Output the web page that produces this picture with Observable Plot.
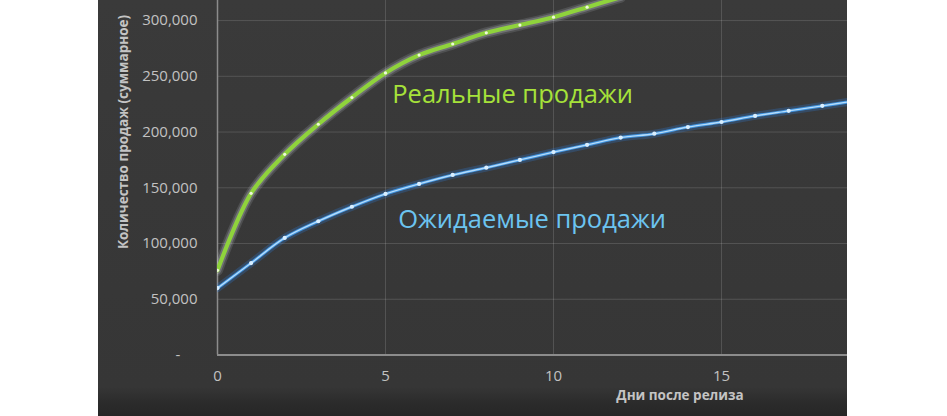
<!DOCTYPE html>
<html><head><meta charset="utf-8">
<script src="https://cdn.jsdelivr.net/npm/d3@7"></script>
<script src="https://cdn.jsdelivr.net/npm/@observablehq/plot@0.6"></script>
<style>
html,body{margin:0;padding:0;background:#fff;width:947px;height:416px;overflow:hidden;}
#panel{position:absolute;left:98px;top:0;width:749px;height:416px;background:linear-gradient(#3a3a3a 0%,#363636 93%,#2c2c2c 96.5%,#262626 100%);}
#chart{position:absolute;left:0;top:0;}
#chart g[aria-label$="tick label"]{font-size:15px !important;font-family:"Open Sans",sans-serif;}
.lab{position:absolute;color:#c4c4c4;font-family:"Open Sans",sans-serif;font-weight:bold;font-size:13.5px;white-space:nowrap;}
#ylab{left:25px;top:132px;transform:translate(-50%,-50%) rotate(-90deg);}
#xlab{left:582px;top:395px;transform:translate(-50%,-50%);}
</style></head><body>
<div id="panel"><div id="chart"></div>
<div class="lab" id="ylab">Количество продаж (суммарное)</div>
<div class="lab" id="xlab">Дни после релиза</div>
</div>
<script>
const realDays = [0,1,2,3,4,5,6,7,8,9,10,11,12];
const realSales = [76000,145000,180000,207000,231000,253000,269000,279000,289000,296000,303000,312000,321000];
const expectedDays = [0,1,2,3,4,5,6,7,8,9,10,11,12,13,14,15,16,17,18,19];
const expectedSales = [60000,82500,105000,120000,133000,144500,153500,161500,168000,175000,182000,188500,195000,198500,204500,209000,214500,219000,223500,228000];
const xTicks = [0,5,10,15];
const yTicks = [0,50000,100000,150000,200000,250000,300000];
const labelTexts = ["Реальные продажи","Ожидаемые продажи"];
const labelDays = [5.2,5.38];
const labelValues = [233500,121500];
const labelColors = ["#a6e23a","#6cc4f0"];

const real = realDays.map((d,i)=>({day:d,sales:realSales[i]}));
const expected = expectedDays.map((d,i)=>({day:d,sales:expectedSales[i]}));
const labels = labelTexts.map((t,i)=>({text:t,day:labelDays[i],sales:labelValues[i],color:labelColors[i]}));
const fmt = d3.format(",");
const curve = "catmull-rom";

const chart = Plot.plot({
  width: 749, height: 416,
  marginLeft: 119, marginRight: 0, marginTop: 0, marginBottom: 61.5,
  style: {background:"transparent", color:"#c2c2c2", fontFamily:"'Open Sans', sans-serif"},
  x: {domain:[0,18.75]},
  y: {domain:[0,318000]},
  marks: [
    Plot.gridY(yTicks.slice(1), {stroke:"#fff", strokeOpacity:0.14}),
    Plot.gridX(xTicks.slice(1), {stroke:"#fff", strokeOpacity:0.14}),
    Plot.axisX({ticks:xTicks, tickSize:0, tickPadding:15, label:null, fontSize:15, fill:"#c2c2c2", tickFormat:d=>String(d)}),
    Plot.axisY({ticks:yTicks, tickSize:0, tickPadding:20, label:null, fontSize:15, fill:"#c2c2c2", tickFormat:d=>d===0?"-\u2007\u2007":fmt(d)}),
    Plot.ruleX([0], {stroke:"#8c8c8c", strokeWidth:1.5}),
    Plot.ruleY([0], {stroke:"#8c8c8c", strokeWidth:2}),
    Plot.line(expected, {x:"day", y:"sales", curve, clip:true, stroke:"#2f8fff", strokeOpacity:0.22, strokeWidth:8}),
    Plot.line(expected, {x:"day", y:"sales", curve, clip:true, stroke:"#3f92de", strokeWidth:3.2}),
    Plot.line(expected, {x:"day", y:"sales", curve, clip:true, stroke:"#b4dcfb", strokeWidth:1.4}),
    Plot.dot(expected, {x:"day", y:"sales", clip:true, r:2.1, fill:"#d8eeff"}),
    Plot.line(real, {x:"day", y:"sales", curve, clip:true, stroke:"#f0f4ff", strokeOpacity:0.12, strokeWidth:11}),
    Plot.line(real, {x:"day", y:"sales", curve, clip:true, stroke:"#f0f4ff", strokeOpacity:0.2, strokeWidth:7.5}),
    Plot.line(real, {x:"day", y:"sales", curve, clip:true, stroke:"#8fd33c", strokeWidth:4.2}),
    Plot.dot(real, {x:"day", y:"sales", clip:true, r:1.6, fill:"#eef8dc"}),
    Plot.text(labels, {x:"day", y:"sales", text:"text", fill:"color", fontSize:25.5, textAnchor:"start", fontFamily:"'Open Sans', sans-serif"})
  ]
});
document.getElementById("chart").appendChild(chart);
</script>
</body></html>
